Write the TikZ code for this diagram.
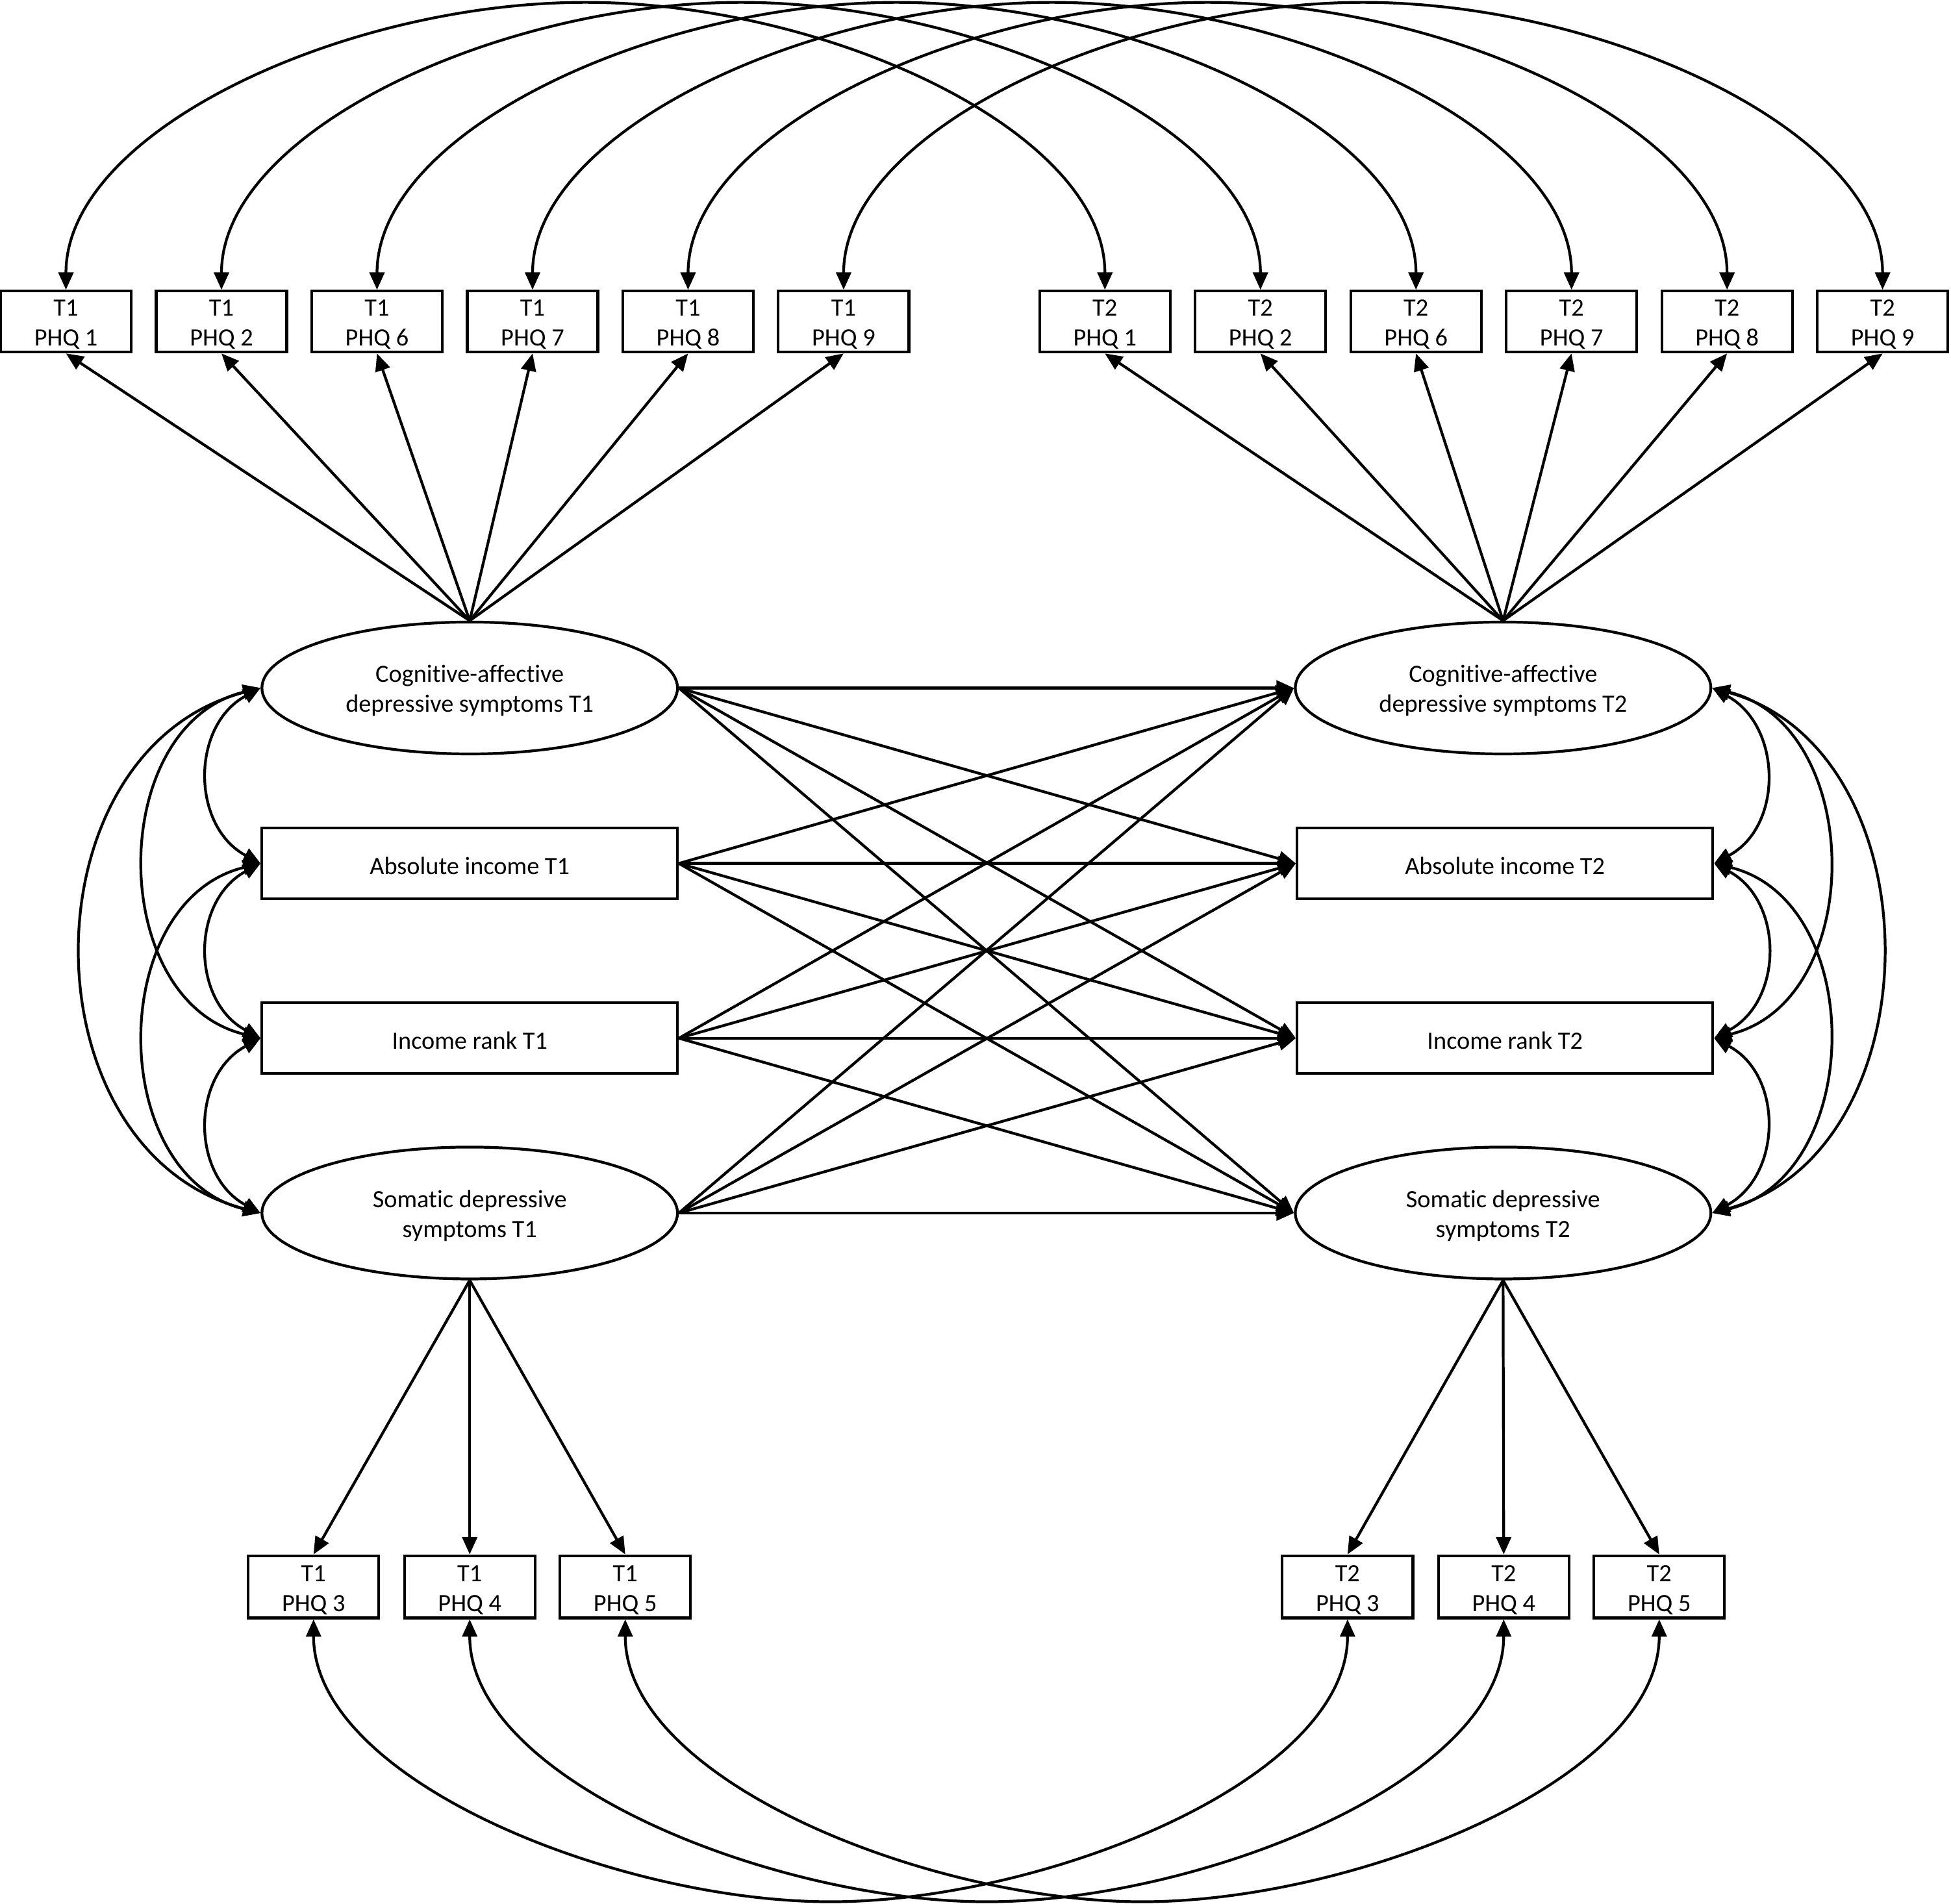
\documentclass[tikz,border=0pt]{standalone}
\usepackage{fontspec}
\setmainfont{Carlito}[Ligatures=NoCommon]
\usetikzlibrary{arrows.meta,calc,shapes.geometric}
\newcommand\tstr{\rule{0pt}{18pt}}
\begin{document}
\begin{tikzpicture}[x=1pt,y=-1pt,
  every node/.style={font=\fontsize{20}{24}\selectfont, align=center, inner sep=0pt},
  ind/.style={draw, line width=2.2pt, minimum width=105pt, minimum height=49pt},
  lat/.style={draw, ellipse, line width=2.2pt, minimum width=334pt, minimum height=106pt},
  obs/.style={draw, line width=2.2pt, minimum width=334pt, minimum height=57pt},
  tip/.tip={Triangle[length=14pt,width=12pt]},
  conn/.style={line width=2.2pt, -tip},
  cov/.style={line width=2.2pt, tip-tip},
]
\useasboundingbox (0,0) rectangle (1568,1530);

% indicator boxes, top
\foreach \k/\x in {1/53, 2/178, 6/303, 7/428, 8/553, 9/678}{
  \node[ind] (a\k) at (\x,258.5) {\tstr T1\\PHQ \k};
  \node[ind] (b\k) at (\x+835,258.5) {\tstr T2\\PHQ \k};
}
% indicator boxes, bottom
\foreach \k/\x in {3/252, 4/377.5, 5/502.5}{
  \node[ind, minimum height=50pt] (c\k) at (\x,1275.5) {\tstr T1\\PHQ \k};
  \node[ind, minimum height=50pt] (d\k) at (\x+831,1275.5) {\tstr T2\\PHQ \k};
}

% latent and observed variables
\node[lat] (cogA) at (377.5,553) {\tstr Cognitive-affective\\depressive symptoms T1};
\node[lat] (cogB) at (1208,553) {\tstr Cognitive-affective\\depressive symptoms T2};
\node[obs] (absA) at (377.5,694) {\tstr Absolute income T1};
\node[obs] (absB) at (1209.5,694) {\tstr Absolute income T2};
\node[obs] (rankA) at (377.5,834.5) {\tstr Income rank T1};
\node[obs] (rankB) at (1209.5,834.5) {\tstr Income rank T2};
\node[lat] (somA) at (377.5,975) {\tstr Somatic depressive\\symptoms T1};
\node[lat] (somB) at (1208,975) {\tstr Somatic depressive\\symptoms T2};

% loadings
\foreach \k in {1,2,6,7,8,9}{
  \draw[conn] (cogA.north) -- (a\k.south);
  \draw[conn] (cogB.north) -- (b\k.south);
}
\foreach \k in {3,4,5}{
  \draw[conn] (somA.south) -- (c\k.north);
  \draw[conn] (somB.south) -- (d\k.north);
}

% residual covariances, top
\foreach \k in {1,2,6,7,8,9}{
  \coordinate (ta\k) at ($(a\k.north)!0.5!(b\k.north)+(0,-231)$);
  \draw[cov] (a\k.north) .. controls +(0,-128) and +(-193,0) .. (ta\k)
             .. controls +(193,0) and +(0,-128) .. (b\k.north);
}
% residual covariances, bottom
\foreach \k in {3,4,5}{
  \coordinate (tb\k) at ($(c\k.south)!0.5!(d\k.south)+(0,227)$);
  \draw[cov] (c\k.south) .. controls +(0,130) and +(-170,0) .. (tb\k)
             .. controls +(170,0) and +(0,130) .. (d\k.south);
}

% cross-lagged and autoregressive paths
\foreach \s in {cogA,absA,rankA,somA}{
  \foreach \t in {cogB,absB,rankB,somB}{
    \draw[conn] (\s.east) -- (\t.west);
  }
}

% covariances at T1
\draw[cov] (cogA.west) .. controls +(-56,30) and +(-56,-30) .. (absA.west);
\draw[cov] (absA.west) .. controls +(-56,30) and +(-56,-30) .. (rankA.west);
\draw[cov] (rankA.west) .. controls +(-56,30) and +(-56,-30) .. (somA.west);
\draw[cov] (cogA.west) .. controls +(-124,30) and +(-124,-30) .. (rankA.west);
\draw[cov] (absA.west) .. controls +(-124,30) and +(-124,-30) .. (somA.west);
\draw[cov] (cogA.west) .. controls +(-191,50) and +(-191,-50) .. (somA.west);

% covariances at T2
\draw[cov] (cogB.east) .. controls +(56,30) and +(56,-30) .. (absB.east);
\draw[cov] (absB.east) .. controls +(56,30) and +(56,-30) .. (rankB.east);
\draw[cov] (rankB.east) .. controls +(56,30) and +(56,-30) .. (somB.east);
\draw[cov] (cogB.east) .. controls +(123,30) and +(123,-30) .. (rankB.east);
\draw[cov] (absB.east) .. controls +(123,30) and +(123,-30) .. (somB.east);
\draw[cov] (cogB.east) .. controls +(181,50) and +(181,-50) .. (somB.east);
\end{tikzpicture}
\end{document}
